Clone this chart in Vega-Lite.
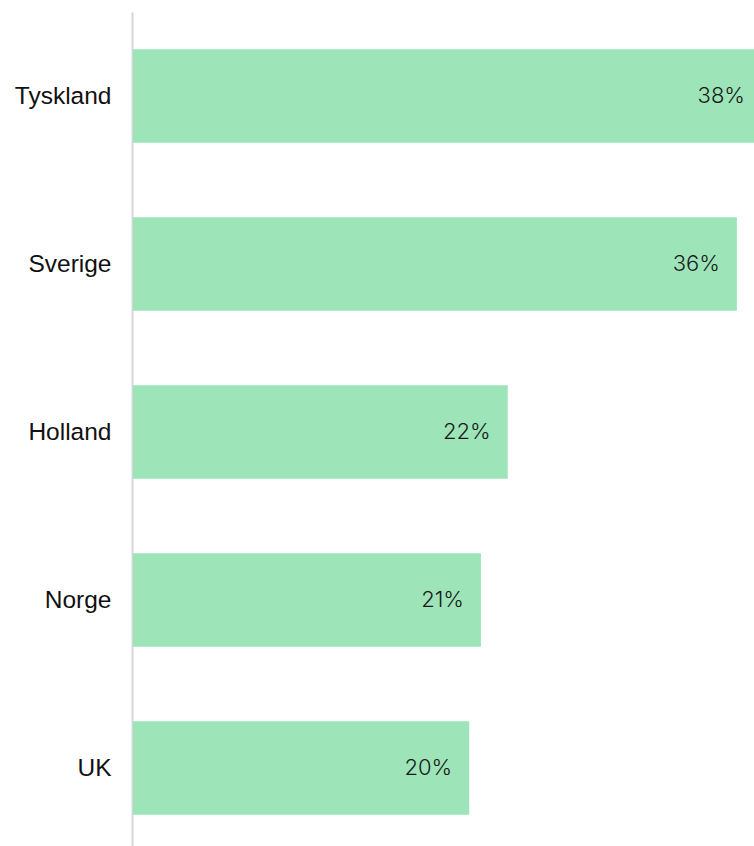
{
  "$schema": "https://vega.github.io/schema/vega-lite/v6.json",
  "autosize": "none",
  "width": 621,
  "height": 834,
  "padding": {"left": 133, "top": 12, "right": 0, "bottom": 0},
  "background": "white",
  "config": {"view": {"stroke": null}},
  "data": {
    "values": [
      {"land": "Tyskland", "andel": 0.376},
      {"land": "Sverige", "andel": 0.361},
      {"land": "Holland", "andel": 0.224},
      {"land": "Norge", "andel": 0.208},
      {"land": "UK", "andel": 0.201}
    ]
  },
  "encoding": {
    "y": {
      "field": "land",
      "type": "nominal",
      "sort": null,
      "scale": {"range": [0, 840], "paddingInner": 0.444, "paddingOuter": 0.222},
      "axis": {
        "title": null,
        "ticks": false,
        "labelPadding": 21,
        "labelFont": "Liberation Sans",
        "labelFontSize": 24.5,
        "labelColor": "#111111",
        "labelOffset": 1,
        "domainColor": "#d6d6d6",
        "domainWidth": 2,
        "offset": 1,
        "grid": false
      }
    },
    "x": {
      "field": "andel",
      "type": "quantitative",
      "scale": {"domain": [0, 0.376], "range": [0, 629], "nice": false},
      "axis": null
    }
  },
  "layer": [
    {"mark": {"type": "bar", "color": "#9de5b9"}},
    {
      "mark": {"type": "text", "align": "right", "baseline": "middle", "dx": -17, "font": "Inter", "fontSize": 22, "fontWeight": 300, "color": "#1a1a1a"},
      "encoding": {"text": {"field": "andel", "type": "quantitative", "format": ".0%"}}
    }
  ]
}
